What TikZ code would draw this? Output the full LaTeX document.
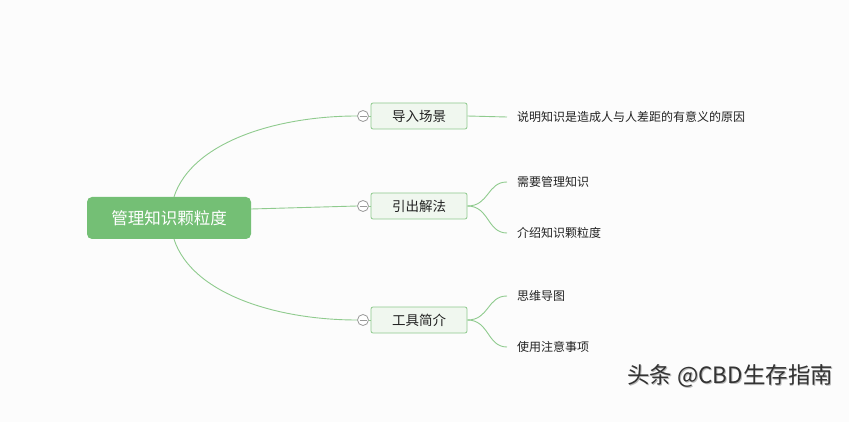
\documentclass[tikz,border=0pt]{standalone}
\usepackage{fontspec}
\setmainfont{Noto Sans CJK SC}
\definecolor{bgc}{HTML}{FCFCFC}
\definecolor{rootc}{HTML}{74BF75}
\definecolor{linkc}{HTML}{8FCB8E}
\definecolor{topicfill}{HTML}{F0F7EF}
\definecolor{topicdraw}{HTML}{8DC98C}
\definecolor{txt}{HTML}{222222}
\begin{document}
\begin{tikzpicture}[x=1pt,y=-1pt,
  rootbox/.style={fill=rootc, rounded corners=5pt, minimum width=164pt, minimum height=42pt, text=white, font=\fontsize{16.5}{18}\selectfont, inner sep=0pt},
  topicbox/.style={fill=topicfill, draw=topicdraw, line width=0.8pt, rounded corners=2pt, minimum width=96pt, minimum height=26pt, text=txt, font=\fontsize{13.5}{15}\selectfont, inner sep=0pt},
  subtext/.style={anchor=west, text=txt, font=\fontsize{12}{14}\selectfont, inner xsep=10pt, inner ysep=2pt},
  link/.style={draw=linkc, line width=0.9pt},
  collapse/.style={circle, draw=gray!80, fill=white, line width=0.8pt, minimum size=11pt, inner sep=0pt,
    path picture={\draw[gray!80, line width=0.8pt] ([xshift=-3.5pt]path picture bounding box.center) -- ([xshift=3.5pt]path picture bounding box.center);}},
  wmtext/.style={anchor=west, font=\fontsize{22.5}{25}\selectfont, inner sep=0pt},
]
\path[fill=bgc] (0,0) rectangle (849,422);
\useasboundingbox (0,0) rectangle (849,422);

% root
\node[rootbox] (root) at (169,218) {管理知识颗粒度};

% topics
\node[topicbox] (t1) at (419,116) {导入场景};
\node[topicbox] (t2) at (419,206) {引出解法};
\node[topicbox] (t3) at (419,320) {工具简介};

% collapse markers
\node[collapse] (c1) at (363,116) {};
\node[collapse] (c2) at (363,206) {};
\node[collapse] (c3) at (363,320) {};

% subtopics
\node[subtext] (s1) at (507,117) {说明知识是造成人与人差距的有意义的原因};
\node[subtext] (s2) at (507,182) {需要管理知识};
\node[subtext] (s3) at (507,233) {介绍知识颗粒度};
\node[subtext] (s4) at (507,296) {思维导图};
\node[subtext] (s5) at (507,347) {使用注意事项};

% root connectors
\draw[link] ([xshift=5pt]root.north) .. controls +(18,-55) and +(-80,0) .. (c1.west);
\draw[link] ([yshift=9pt]root.east) -- (c2.west);
\draw[link] ([xshift=5pt]root.south) .. controls +(18,55) and +(-80,0) .. (c3.west);
\draw[link] (c1.east) -- (t1.west);
\draw[link] (c2.east) -- (t2.west);
\draw[link] (c3.east) -- (t3.west);

% sub connectors
\draw[link] (t1.east) -- (s1.west);
\draw[link] (t2.east) .. controls +(22,0) and +(-20,0) .. (s2.west);
\draw[link] (t2.east) .. controls +(22,0) and +(-20,0) .. (s3.west);
\draw[link] (t3.east) .. controls +(22,0) and +(-20,0) .. (s4.west);
\draw[link] (t3.east) .. controls +(22,0) and +(-20,0) .. (s5.west);

% watermark
\node[wmtext, text=gray!55] at (627.8,376.8) {头条 @CBD生存指南};
\node[wmtext, text=black!80] (wm) at (627,376) {头条 @CBD生存指南};
\end{tikzpicture}
\end{document}
